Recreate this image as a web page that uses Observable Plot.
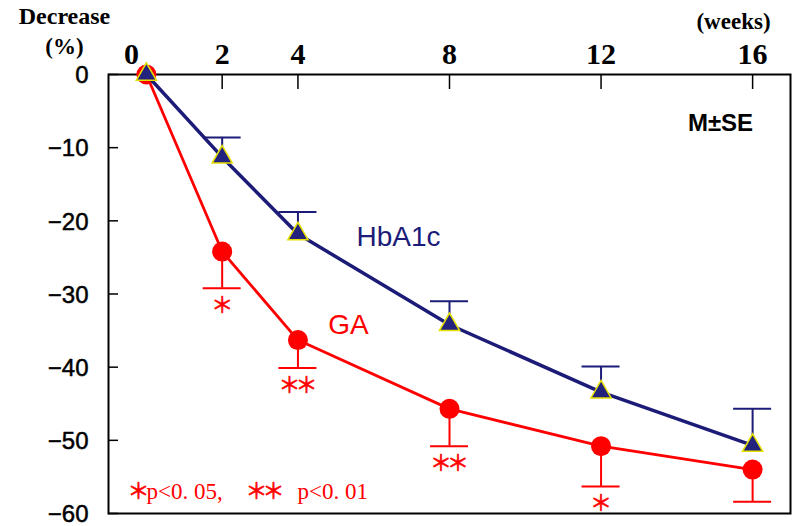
<!DOCTYPE html>
<html>
<head>
<meta charset="utf-8">
<script src="https://cdn.jsdelivr.net/npm/d3@7"></script>
<script src="https://cdn.jsdelivr.net/npm/@observablehq/plot@0.6"></script>
<style>
  html, body { margin: 0; padding: 0; background: #fff; }
</style>
</head>
<body>
<div id="chart"></div>
<script>
// ---- data ----
const weeks = [0, 2, 4, 8, 12, 16];
const hba1cMean = [0, -11.3, -21.8, -34.2, -43.4, -50.7];
const hba1cSE   = [0, 2.7, 3.0, 3.2, 3.5, 5.0];
const gaMean    = [0, -24.2, -36.3, -45.7, -50.8, -54.0];
const gaSE      = [0, 5.0, 3.8, 5.1, 5.5, 4.4];
const gaSig     = ["", "＊", "＊＊", "＊＊", "＊", ""];
const xTicks = [2, 4, 8, 12, 16];
const yTicks = [0, -10, -20, -30, -40, -50, -60];

const navy = "#1c1c78";
const red = "#ff0000";

const hb = weeks.map((w, i) => ({week: w, mean: hba1cMean[i], se: hba1cSE[i], cap: hba1cMean[i] + hba1cSE[i]}));
const ga = weeks.map((w, i) => ({week: w, mean: gaMean[i], se: gaSE[i], cap: gaMean[i] - gaSE[i], sig: gaSig[i]}));
const hbErr = hb.filter(d => d.se > 0);
const gaErr = ga.filter(d => d.se > 0);

const serif = "'Liberation Serif', 'Times New Roman', serif";
const sans = "'Liberation Sans', Arial, sans-serif";
const cjk = "'Noto Sans CJK JP', sans-serif";

const chart = Plot.plot({
  width: 792,
  height: 526,
  marginLeft: 108,
  marginRight: 2,
  marginTop: 74,
  marginBottom: 13,
  x: {domain: [-1, 17]},
  y: {domain: [-60, 0]},
  style: {background: "white", overflow: "visible", color: "black"},
  marks: [
    // axes
    Plot.axisY(yTicks, {anchor: "left", tickSize: -10, fill: "none", strokeWidth: 1.5, label: null}),
    Plot.axisY(yTicks, {anchor: "left", tickSize: 0, tickPadding: 20, dy: 1, fontSize: 24, fontFamily: sans, textStroke: "black", textStrokeWidth: 0.5, label: null}),
    Plot.axisX(xTicks, {anchor: "top", tickSize: -14, fill: "none", strokeWidth: 1.5, label: null}),
    Plot.axisX(xTicks, {anchor: "top", tickSize: 0, tickPadding: 11, fontSize: 30, fontWeight: "bold", fontFamily: serif, label: null}),
    Plot.axisX([0], {anchor: "top", tickSize: 0, tickPadding: 11, dx: -15, fontSize: 30, fontWeight: "bold", fontFamily: serif, label: null}),
    Plot.frame({stroke: "black", strokeWidth: 2}),

    // GA series
    Plot.line(ga, {x: "week", y: "mean", stroke: red, strokeWidth: 2.8}),
    Plot.ruleX(gaErr, {x: "week", y1: "mean", y2: "cap", stroke: red, strokeWidth: 2}),
    Plot.ruleY(gaErr, {y: "cap", x1: "week", x2: "week", insetLeft: -19, insetRight: -19, stroke: red, strokeWidth: 2}),
    Plot.dot(ga, {x: "week", y: "mean", r: 10, fill: red}),
    Plot.text(ga, {x: "week", y: "cap", text: "sig", dx: -2.5, dy: 17, lineAnchor: "middle", fill: red, stroke: red, strokeWidth: 0.6, fontSize: 22, fontFamily: cjk}),

    // HbA1c series
    Plot.ruleX(hbErr, {x: "week", y1: "mean", y2: "cap", stroke: navy, strokeWidth: 2}),
    Plot.ruleY(hbErr, {y: "cap", x1: "week", x2: "week", insetLeft: -19, insetRight: -19, stroke: navy, strokeWidth: 2}),
    Plot.line(hb, {x: "week", y: "mean", stroke: navy, strokeWidth: 3.5}),
    Plot.dot(hb, {x: "week", y: "mean", symbol: "triangle", r: 7.5, fill: "#23237e", stroke: "#e6e000", strokeWidth: 1.5}),

    // labels
    Plot.text(["HbA1c"], {frameAnchor: "top-left", dx: 290, dy: 163, textAnchor: "middle", lineAnchor: "middle", fill: navy, fontSize: 28, fontFamily: sans}),
    Plot.text(["GA"], {frameAnchor: "top-left", dx: 240, dy: 251, textAnchor: "middle", lineAnchor: "middle", fill: red, fontSize: 28, fontFamily: sans}),
    Plot.text(["M±SE"], {frameAnchor: "top-right", dx: -70, dy: 49, textAnchor: "middle", lineAnchor: "middle", fontSize: 24, fontWeight: "bold", fontFamily: sans}),
    // significance note
    Plot.text(["＊"], {frameAnchor: "bottom-left", dx: 19, dy: -16, textAnchor: "start", lineAnchor: "bottom", fill: red, stroke: red, strokeWidth: 0.6, fontSize: 22, fontFamily: cjk}),
    Plot.text(["p<0. 05,"], {frameAnchor: "bottom-left", dx: 38, dy: -15, textAnchor: "start", lineAnchor: "bottom", fill: red, fontSize: 23, fontFamily: serif}),
    Plot.text(["＊＊"], {frameAnchor: "bottom-left", dx: 137, dy: -16, textAnchor: "start", lineAnchor: "bottom", fill: red, stroke: red, strokeWidth: 0.6, fontSize: 22, fontFamily: cjk}),
    Plot.text(["p<0. 01"], {frameAnchor: "bottom-left", dx: 189, dy: -15, textAnchor: "start", lineAnchor: "bottom", fill: red, fontSize: 23, fontFamily: serif}),
    // outer labels
    Plot.text(["Decrease"], {frameAnchor: "top-left", dx: -44, dy: -51, textAnchor: "middle", lineAnchor: "bottom", fontSize: 24, fontWeight: "bold", fontFamily: serif}),
    Plot.text(["(%)"], {frameAnchor: "top-left", dx: -44, dy: -21, textAnchor: "middle", lineAnchor: "bottom", fontSize: 23, fontWeight: "bold", fontFamily: serif}),
    Plot.text(["(weeks)"], {frameAnchor: "top-right", dx: -57, dy: -46, textAnchor: "middle", lineAnchor: "bottom", fontSize: 23, fontWeight: "bold", fontFamily: serif})
  ]
});
d3.select(chart).selectAll("text")
  .filter(function() { return this.textContent.includes("＊"); })
  .attr("letter-spacing", "-5")
  .style("letter-spacing", "-5px");
document.getElementById("chart").appendChild(chart);
</script>
</body>
</html>
